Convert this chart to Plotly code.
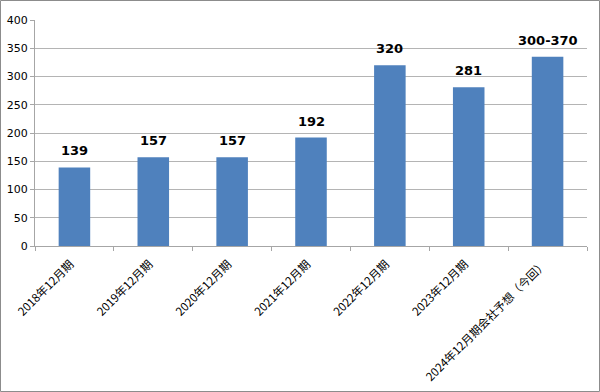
import plotly.graph_objects as go

categories = ["2018年12月期", "2019年12月期", "2020年12月期", "2021年12月期",
              "2022年12月期", "2023年12月期", "2024年12月期会社予想（今回）"]
values = [139, 157, 157, 192, 320, 281, 335]
labels = ["139", "157", "157", "192", "320", "281", "300-370"]
y_ticks = [0, 50, 100, 150, 200, 250, 300, 350, 400]

fig = go.Figure()
fig.add_trace(go.Bar(x=categories, y=values, marker_color="#4f81bd",
                     marker_line_width=0, hoverinfo="skip"))

for c, v, t in zip(categories, values, labels):
    fig.add_annotation(x=c, y=v, text=t, showarrow=False, yanchor="bottom",
                       yshift=7, font=dict(family="DejaVu Sans", size=13, color="#000000", weight="bold"))

fig.update_layout(
    width=600, height=392,
    margin=dict(l=35, r=13, t=20, b=146, autoexpand=False),
    paper_bgcolor="white", plot_bgcolor="white",
    bargap=0.6, showlegend=False,
    font=dict(family="DejaVu Sans, Noto Sans CJK JP", size=11, color="#000000"),
)
fig.update_xaxes(
    tickangle=-45, tickfont=dict(family="Noto Sans CJK JP", size=11.5),
    showline=True, linecolor="#a6a6a6", linewidth=1,
    ticks="outside", ticklen=4, tickcolor="#a6a6a6", tickson="boundaries",
    showgrid=False, automargin=False, ticklabelshift=-4, ticklabelstandoff=6,
)
fig.update_yaxes(
    range=[0, 400], tickvals=y_ticks, showgrid=True, gridcolor="#b4b4b4", gridwidth=1,
    showline=True, linecolor="#a6a6a6", linewidth=1,
    ticks="outside", ticklen=4, tickcolor="#a6a6a6", zeroline=False,
    tickfont=dict(family="DejaVu Sans", size=11), automargin=False,
)
fig.add_shape(type="rect", xref="paper", yref="paper",
              x0=-34.5/552, x1=1+12.5/552, y0=-145.5/226, y1=1+19.5/226,
              line=dict(color="#8c8c8c", width=1), fillcolor="rgba(0,0,0,0)")
fig.write_html("out.html")
